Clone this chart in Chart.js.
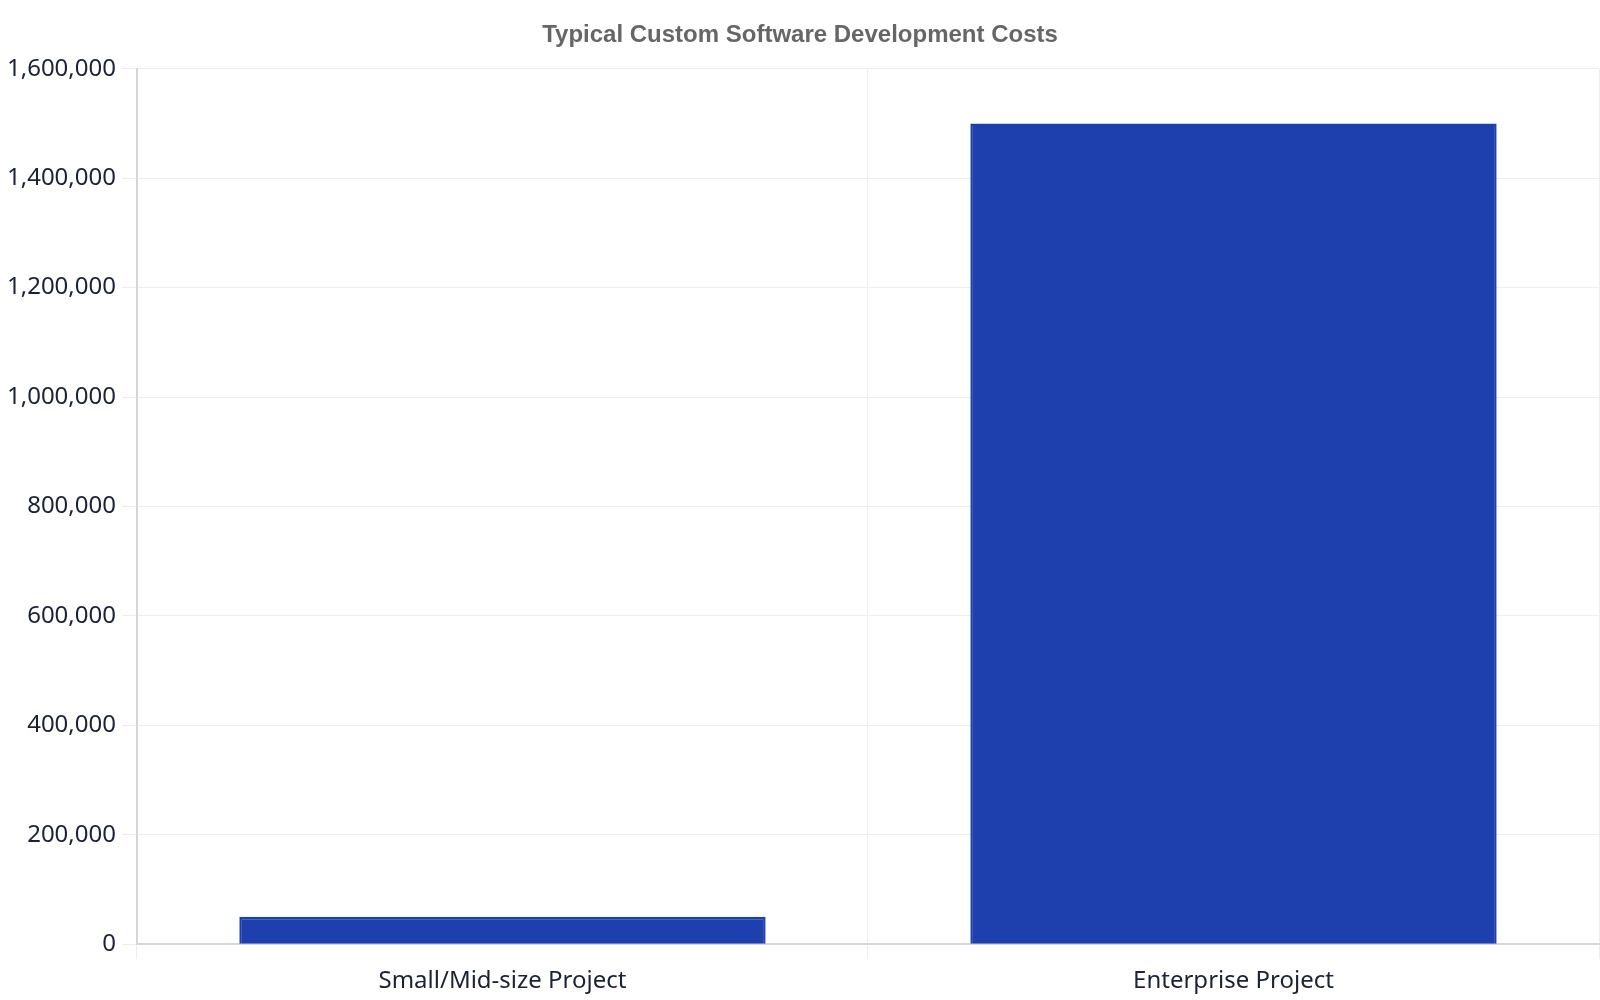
<!DOCTYPE html>
<html>
<head>
<meta charset="utf-8">
<script src="https://cdn.jsdelivr.net/npm/chart.js@4"></script>
<style>
  html, body { margin: 0; padding: 0; background: #fff; }
  #wrap { width: 1600px; height: 1000px; }
</style>
</head>
<body>
<div id="wrap"><canvas id="chart-costes"></canvas></div>
<script>
// Datos
const categorias = ['Small/Mid-size Project', 'Enterprise Project'];
const costes     = [50000, 1500000];
const ticksY     = [0, 200000, 400000, 600000, 800000, 1000000, 1200000, 1400000, 1600000];

const fuenteEjes = { family: 'Noto Sans', size: 24 };

const ctx = document.getElementById('chart-costes').getContext('2d');
new Chart(ctx, {
  type: 'bar',
  data: {
    labels: categorias,
    datasets: [{
      label: 'Cost',
      data: costes,
      backgroundColor: '#1e40af',
      borderColor: '#1e40af',
      borderWidth: 2.5,
    }]
  },
  options: {
    responsive: true,
    maintainAspectRatio: false,
    animation: false,
    layout: { padding: { left: 1, right: 1, top: 0, bottom: -4 } },
    plugins: {
      legend: { display: false },
      tooltip: { enabled: false },
      title: {
        display: true,
        text: 'Typical Custom Software Development Costs',
        color: '#666666',
        font: { family: 'Liberation Sans', size: 24, weight: 'bold' },
        padding: { top: 21, bottom: 19 }
      }
    },
    scales: {
      x: {
        grid: { color: '#eeeeee', tickLength: 15 },
        border: { color: '#d6d6d6', width: 2 },
        ticks: { color: '#1a2233', font: fuenteEjes, padding: 8 }
      },
      y: {
        min: ticksY[0],
        max: ticksY[ticksY.length - 1],
        afterBuildTicks: axis => { axis.ticks = ticksY.map(v => ({ value: v })); },
        grid: { color: '#eeeeee', tickLength: 15 },
        border: { color: '#d6d6d6', width: 2 },
        ticks: {
          color: '#1a2233',
          font: fuenteEjes,
          padding: 6,
          callback: v => v.toLocaleString('en-US')
        }
      }
    }
  }
});
</script>
</body>
</html>
